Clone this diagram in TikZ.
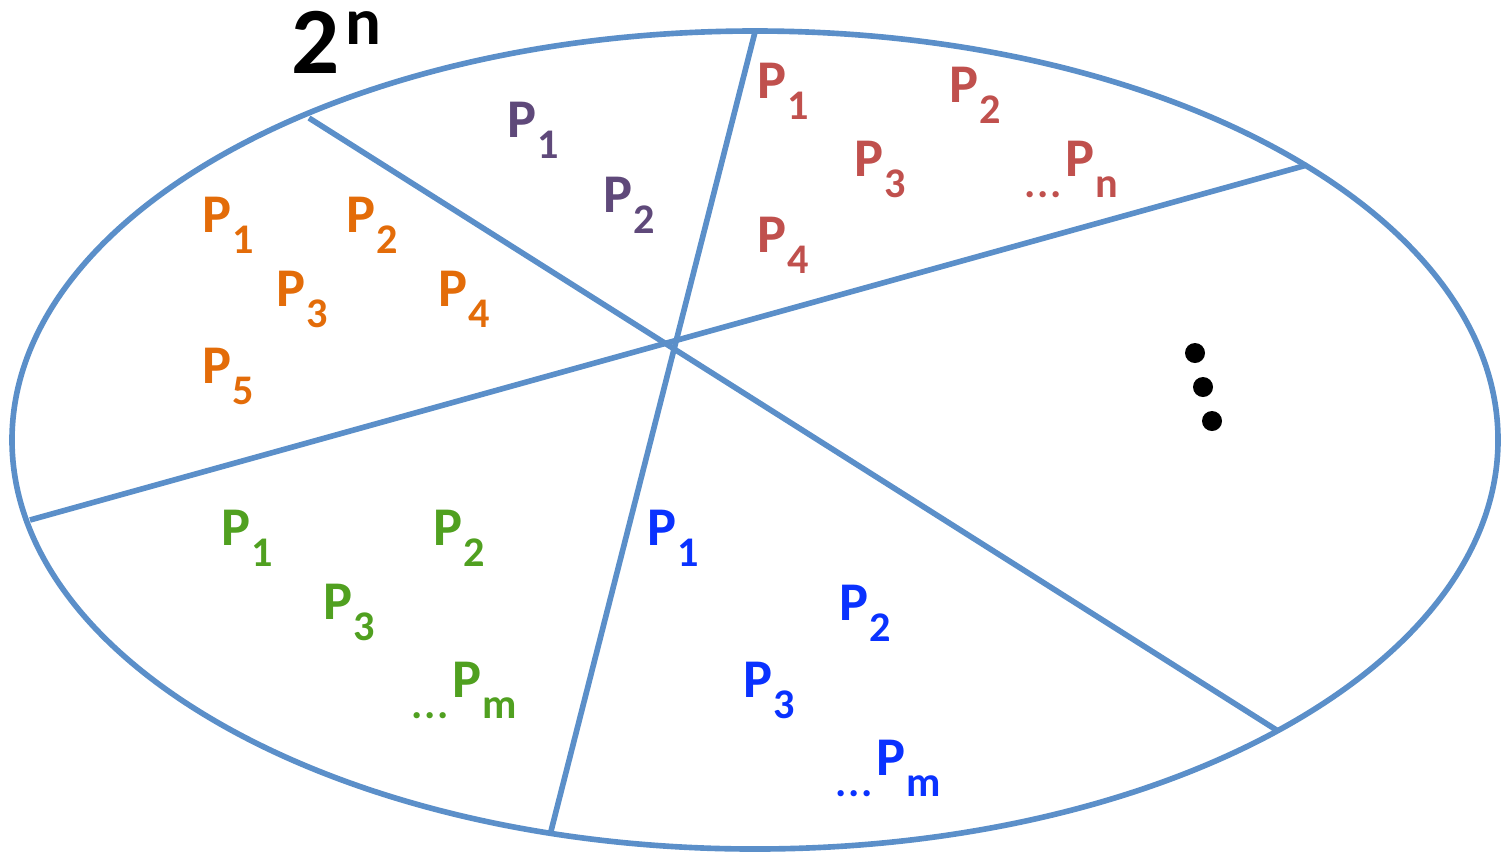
\documentclass[tikz,border=0pt]{standalone}
\usepackage{fontspec}
\setmainfont{Carlito}
\definecolor{ell}{HTML}{5B8FC9}
\definecolor{cpur}{HTML}{5F497A}
\definecolor{cred}{HTML}{C0504D}
\definecolor{cora}{HTML}{E36C09}
\definecolor{cgrn}{HTML}{50A020}
\definecolor{cblu}{HTML}{0A32FF}
\newcommand{\PP}[1]{{\fontsize{15.5}{18}\selectfont P}\kern0.3pt\raisebox{-6.2pt}{\fontsize{12}{14}\selectfont #1}}
\newcommand{\DP}[1]{\raisebox{-6.2pt}{\fontsize{12}{14}\selectfont\kern-0.5pt.\kern0.4pt.\kern0.4pt.}\kern1.2pt\PP{#1}}
\begin{document}
\begin{tikzpicture}[x=0.01cm,y=-0.01cm,
  lab/.style={anchor=base west,inner sep=0pt,font=\bfseries},
  sep/.style={draw=ell,line width=1.6pt},
  dotm/.style={fill=black,draw=none}]
\useasboundingbox (0,0) rectangle (1501,851);
\draw[sep] (755,440) ellipse [x radius=743, y radius=409];
\draw[sep] (309,118) -- (1278,731);
\draw[sep] (755,32) -- (550,835);
\draw[sep] (30,520) -- (1307,165);
% 2^n
\node[lab] (two) at (291,73) {\fontsize{27}{30}\selectfont 2\kern1.5pt\raisebox{8pt}{\fontsize{19}{22}\selectfont n}};
% purple
\node[lab,text=cpur] (pu1) at (507,137) {\PP{1}};
\node[lab,text=cpur] (pu2) at (603,212) {\PP{2}};
% red
\node[lab,text=cred] (r1) at (757,98) {\PP{1}};
\node[lab,text=cred] (r2) at (949,102) {\PP{2}};
\node[lab,text=cred] (r3) at (854,176) {\PP{3}};
\node[lab,text=cred] (rn) at (1026,176) {\DP{n}};
\node[lab,text=cred] (r4) at (757,252) {\PP{4}};
% orange
\node[lab,text=cora] (o1) at (202,232) {\PP{1}};
\node[lab,text=cora] (o2) at (346,232) {\PP{2}};
\node[lab,text=cora] (o3) at (276,306) {\PP{3}};
\node[lab,text=cora] (o4) at (438,306) {\PP{4}};
\node[lab,text=cora] (o5) at (202,383) {\PP{5}};
% green
\node[lab,text=cgrn] (g1) at (221,545) {\PP{1}};
\node[lab,text=cgrn] (g2) at (433,545) {\PP{2}};
\node[lab,text=cgrn] (g3) at (323,619) {\PP{3}};
\node[lab,text=cgrn] (gm) at (413,697) {\DP{m}};
% blue
\node[lab,text=cblu] (b1) at (647,545) {\PP{1}};
\node[lab,text=cblu] (b2) at (839,620) {\PP{2}};
\node[lab,text=cblu] (b3) at (743,697) {\PP{3}};
\node[lab,text=cblu] (bm) at (837,775) {\DP{m}};
% vertical ellipsis
\fill[dotm] (1195,353) circle [radius=0.1cm];
\fill[dotm] (1203,387) circle [radius=0.1cm];
\fill[dotm] (1212,421) circle [radius=0.1cm];
\end{tikzpicture}
\end{document}
